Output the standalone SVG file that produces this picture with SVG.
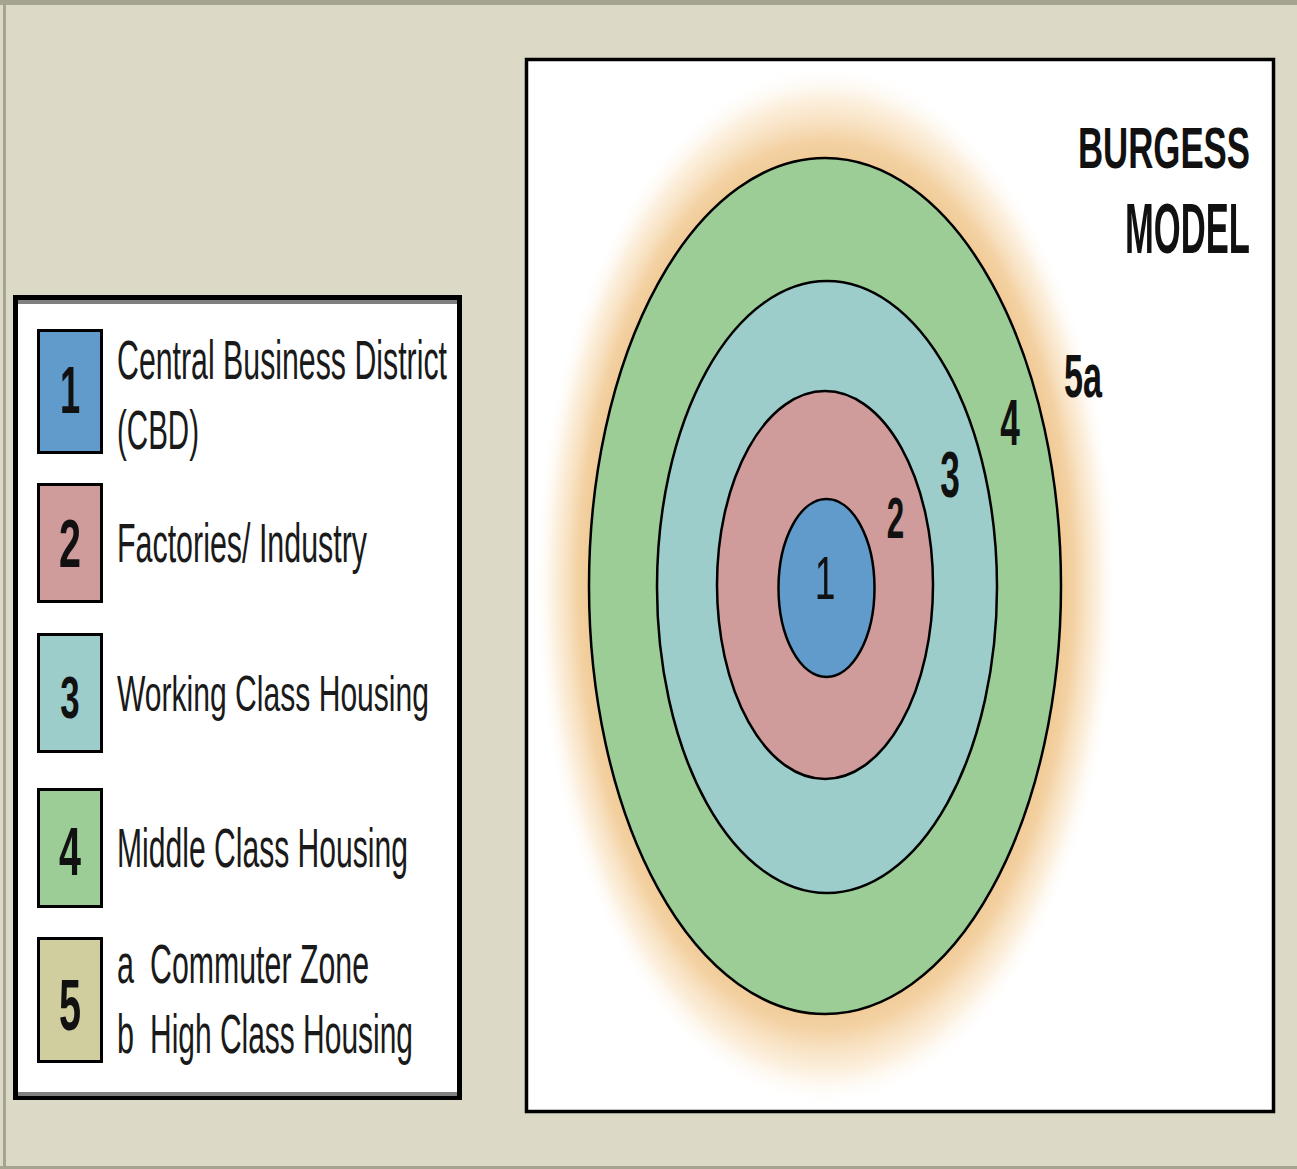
<svg xmlns="http://www.w3.org/2000/svg" width="1297" height="1169" viewBox="0 0 1297 1169">
<defs>
<style>
.lt{font-family:"Liberation Sans",Arial,sans-serif;fill:#1a1a1a;}
.num{font-family:"Liberation Sans",Arial,sans-serif;font-weight:bold;fill:#111;text-anchor:middle;}
.zl{font-family:"Liberation Sans",Arial,sans-serif;font-weight:bold;fill:#111;text-anchor:middle;}
.zl1{font-family:"Liberation Sans",Arial,sans-serif;font-weight:normal;fill:#111;text-anchor:middle;}
.sw{stroke:#000;stroke-width:3;}
.zone{stroke:#000;stroke-width:2.5;}
</style>
<radialGradient id="halo" cx="0.5" cy="0.5" r="0.5">
<stop offset="0" stop-color="#f0c994"/>
<stop offset="0.8" stop-color="#f0c994"/>
<stop offset="0.85" stop-color="#f2cc98" stop-opacity="0.9"/>
<stop offset="0.93" stop-color="#f9e2c0" stop-opacity="0.55"/>
<stop offset="1" stop-color="#ffffff" stop-opacity="0"/>
</radialGradient>
</defs>
<rect x="0" y="0" width="1297" height="1169" fill="#dcdac6"/>
<rect x="0" y="0" width="1297" height="5" fill="#a4a491"/>
<rect x="3" y="0" width="3" height="1169" fill="#a4a491"/>
<rect x="0" y="1166" width="1297" height="3" fill="#a4a491"/>

<g id="legend">
<rect x="15.5" y="297.5" width="444" height="800" fill="#ffffff" stroke="#000" stroke-width="5"/>
<rect x="18" y="300" width="439" height="4" fill="#808080"/>
<rect x="18" y="1092" width="439" height="4" fill="#808080"/>
</g>

<g id="legend-1">
<rect class="sw" x="38.5" y="330.5" width="63" height="122" fill="#619bcb"/>
<text class="num" font-size="66" transform="translate(70,413) scale(0.55,1)">1</text>
<text class="lt" font-size="56" x="117" y="379" textLength="330" lengthAdjust="spacingAndGlyphs">Central Business District</text>
<text class="lt" font-size="56" x="117" y="449" textLength="82" lengthAdjust="spacingAndGlyphs">(CBD)</text>
</g>
<g id="legend-2">
<rect class="sw" x="38.5" y="484.5" width="63" height="117" fill="#cf9b9b"/>
<text class="num" font-size="68" transform="translate(70,567) scale(0.58,1)">2</text>
<text class="lt" font-size="56" x="117" y="562" textLength="250" lengthAdjust="spacingAndGlyphs">Factories/ Industry</text>
</g>
<g id="legend-3">
<rect class="sw" x="38.5" y="634.5" width="63" height="117" fill="#9ccdcb"/>
<text class="num" font-size="60" transform="translate(70,718) scale(0.58,1)">3</text>
<text class="lt" font-size="50" x="117" y="711" textLength="312" lengthAdjust="spacingAndGlyphs">Working Class Housing</text>
</g>
<g id="legend-4">
<rect class="sw" x="38.5" y="789.5" width="63" height="117" fill="#9ccd97"/>
<text class="num" font-size="68" transform="translate(70,875) scale(0.58,1)">4</text>
<text class="lt" font-size="56" x="117" y="867" textLength="291" lengthAdjust="spacingAndGlyphs">Middle Class Housing</text>
</g>
<g id="legend-5">
<rect class="sw" x="38.5" y="938.5" width="63" height="123" fill="#d0cd9f"/>
<text class="num" font-size="72" transform="translate(70,1030) scale(0.55,1)">5</text>
<text class="lt" font-size="56" y="983"><tspan x="117" textLength="17" lengthAdjust="spacingAndGlyphs">a</tspan><tspan x="150" textLength="219" lengthAdjust="spacingAndGlyphs">Commuter Zone</tspan></text>
<text class="lt" font-size="56" y="1053"><tspan x="117" textLength="17" lengthAdjust="spacingAndGlyphs">b</tspan><tspan x="150" textLength="263" lengthAdjust="spacingAndGlyphs">High Class Housing</tspan></text>
</g>

<g id="panel">
<rect x="526.5" y="59.5" width="747" height="1052" fill="#ffffff" stroke="#000" stroke-width="3.5"/>
</g>

<g id="zone-5">
<ellipse cx="826" cy="585" rx="292" ry="522" fill="url(#halo)"/>
</g>
<g id="zone-4">
<ellipse class="zone" cx="825" cy="586" rx="236" ry="428" fill="#9ccd97"/>
</g>
<g id="zone-3">
<ellipse class="zone" cx="827" cy="587" rx="170" ry="306" fill="#9ccdca"/>
</g>
<g id="zone-2">
<ellipse class="zone" cx="825" cy="585" rx="108" ry="194" fill="#cf9b9b"/>
</g>
<g id="zone-1">
<ellipse class="zone" cx="826.5" cy="588" rx="48" ry="89" fill="#619bcb"/>
</g>

<g id="zone-labels">
<text class="zl1" font-size="62" transform="translate(825,599) scale(0.6,1)">1</text>
<text class="zl" font-size="57" transform="translate(895.5,538) scale(0.55,1)">2</text>
<text class="zl" font-size="64" transform="translate(950,497) scale(0.55,1)">3</text>
<text class="zl" font-size="64" transform="translate(1010,445) scale(0.55,1)">4</text>
<text class="zl" font-size="61" transform="translate(1083,397) scale(0.56,1)">5a</text>
</g>

<g id="title">
<text font-family="'Liberation Sans',Arial,sans-serif" font-weight="bold" font-size="57" fill="#111" x="1078" y="168" textLength="172" lengthAdjust="spacingAndGlyphs">BURGESS</text>
<text font-family="'Liberation Sans',Arial,sans-serif" font-weight="bold" font-size="70" fill="#111" x="1125" y="253" textLength="125" lengthAdjust="spacingAndGlyphs">MODEL</text>
</g>
<g id="connectors"></g>
</svg>
